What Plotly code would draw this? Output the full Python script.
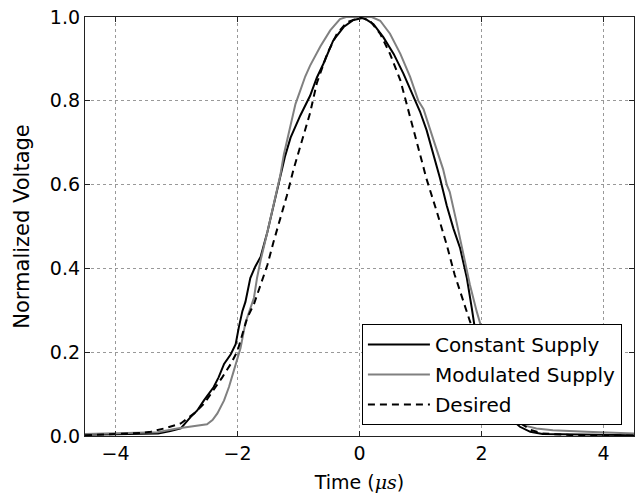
import plotly.graph_objects as go

# Constant Supply (black solid)
const_x = [-4.5, -4.0, -3.6, -3.3, -3.1, -2.93, -2.77, -2.66, -2.55, -2.39, -2.31, -2.22,
           -2.11, -2.03, -1.98, -1.92, -1.87, -1.79, -1.71, -1.62, -1.51, -1.41, -1.30,
           -1.22, -1.13, -0.97, -0.81, -0.70, -0.59, -0.43, -0.26, -0.10, 0.07, 0.23,
           0.39, 0.56, 0.72, 0.88, 0.99, 1.10, 1.21, 1.32, 1.43, 1.54, 1.65, 1.76, 1.84,
           1.89, 2.0, 2.15, 2.3, 2.45, 2.63, 2.8, 3.0, 3.5, 4.0, 4.5]
const_y = [0.003, 0.004, 0.005, 0.006, 0.012, 0.018, 0.045, 0.061, 0.085, 0.117, 0.14, 0.172,
           0.195, 0.219, 0.258, 0.298, 0.32, 0.377, 0.404, 0.428, 0.487, 0.55, 0.613,
           0.668, 0.712, 0.765, 0.812, 0.855, 0.889, 0.944, 0.976, 0.993, 0.998, 0.983,
           0.952, 0.912, 0.865, 0.81, 0.775, 0.73, 0.675, 0.615, 0.55, 0.495, 0.448, 0.377, 0.306,
           0.258, 0.2, 0.13, 0.08, 0.045, 0.022, 0.01, 0.005, 0.004, 0.003, 0.002]

# Modulated Supply (gray solid)
mod_x = [-4.5, -4.0, -3.6, -3.31, -2.99, -2.71, -2.50, -2.41, -2.33, -2.22, -2.14, -2.06,
         -2.0, -1.95, -1.87, -1.82, -1.73, -1.68, -1.62, -1.51, -1.41, -1.30, -1.24, -1.18,
         -1.12, -1.05, -0.97, -0.89, -0.81, -0.72, -0.64, -0.48, -0.32, -0.22, 0.0, 0.2, 0.34,
         0.50, 0.67, 0.83, 0.965, 1.05, 1.21, 1.37, 1.43, 1.48, 1.59, 1.70, 1.81, 1.92, 2.0,
         2.15, 2.3, 2.45, 2.68, 2.9, 3.17, 3.72, 4.1, 4.5]
mod_y = [0.005, 0.006, 0.007, 0.009, 0.018, 0.024, 0.028, 0.038, 0.054, 0.085, 0.117, 0.156,
         0.187, 0.21, 0.27, 0.29, 0.33, 0.377, 0.42, 0.487, 0.55, 0.621, 0.672, 0.712,
         0.752, 0.792, 0.825, 0.858, 0.884, 0.908, 0.93, 0.968, 0.995, 1.0, 1.0, 1.0, 0.991,
         0.96, 0.912, 0.857, 0.8, 0.78, 0.708, 0.637, 0.6, 0.582, 0.511, 0.432, 0.361, 0.298, 0.258,
         0.17, 0.1, 0.05, 0.026, 0.018, 0.014, 0.01, 0.008, 0.006]

# Desired (black dashed)
des_x = [-4.5, -4.0, -3.6, -3.42, -3.15, -2.93, -2.77, -2.71, -2.55, -2.39, -2.25, -2.11,
         -2.0, -1.92, -1.84, -1.73, -1.51, -1.41, -1.30, -1.19, -1.08, -0.97, -0.92, -0.81,
         -0.70, -0.53, -0.37, -0.21, 0.01, 0.17, 0.34, 0.50, 0.67, 0.78, 0.94, 1.10, 1.27,
         1.43, 1.56, 1.70, 1.81, 2.0, 2.2, 2.4, 2.6, 2.8, 3.0, 3.5, 4.5]
des_y = [0.002, 0.004, 0.007, 0.01, 0.02, 0.03, 0.046, 0.054, 0.077, 0.109, 0.14, 0.172,
         0.203, 0.243, 0.282, 0.315, 0.408, 0.463, 0.518, 0.574, 0.637, 0.692, 0.712, 0.771,
         0.842, 0.912, 0.96, 0.987, 0.999, 0.991, 0.96, 0.912, 0.849, 0.79, 0.70, 0.613, 0.534,
         0.456, 0.385, 0.322, 0.274, 0.2, 0.13, 0.075, 0.035, 0.015, 0.006, 0.002, 0.001]

names = ["Constant Supply", "Modulated Supply", "Desired"]
x_ticks = [-4, -2, 0, 2, 4]
y_ticks = [0.0, 0.2, 0.4, 0.6, 0.8, 1.0]

FONT = "DejaVu Sans"

fig = go.Figure()
fig.add_trace(go.Scatter(x=const_x, y=const_y, mode="lines", name=names[0], legendgroup="a",
                         line=dict(color="black", width=2)))
fig.add_trace(go.Scatter(x=mod_x, y=mod_y, mode="lines", name=names[1], legendgroup="b",
                         line=dict(color="#808080", width=2)))
fig.add_trace(go.Scatter(x=des_x, y=des_y, mode="lines", name=names[2], legendgroup="c",
                         line=dict(color="black", width=2, dash="7px,5px")))

axis_common = dict(
    showline=True, linecolor="#222", linewidth=1.3, mirror="allticks",
    ticks="inside", ticklen=5, tickcolor="#222", tickwidth=1,
    showgrid=True, gridcolor="#999", griddash="dot", gridwidth=1,
    zeroline=False, tickfont=dict(family=FONT, size=19, color="black"),
)

fig.update_layout(
    width=641, height=496,
    margin=dict(l=85, r=6, t=13, b=60),
    paper_bgcolor="white", plot_bgcolor="white",
    font=dict(family=FONT, color="black"),
    showlegend=True,
    legend=dict(x=0.978, xanchor="right", y=0.026, yanchor="bottom",
                bgcolor="white", bordercolor="black", borderwidth=1,
                font=dict(family=FONT, size=20, color="black"),
                tracegroupgap=1, itemwidth=62),
    xaxis=dict(range=[-4.5, 4.5], tickvals=x_ticks,
               title=dict(text="Time (<span style='font-family:DejaVu Serif'><i>μs</i></span>)",
                          font=dict(family=FONT, size=19), standoff=12),
               **axis_common),
    yaxis=dict(range=[0, 1], tickvals=y_ticks, tickformat=".1f",
               title=dict(text="Normalized Voltage", font=dict(family=FONT, size=21), standoff=14),
               **axis_common),
)

fig.write_html("out.html")
